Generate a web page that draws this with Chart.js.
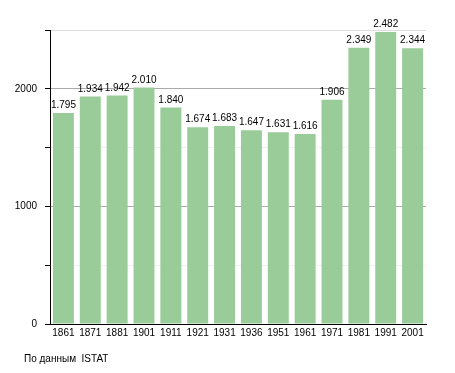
<!DOCTYPE html>
<html>
<head>
<meta charset="utf-8">
<script src="https://cdn.jsdelivr.net/npm/chart.js@4/dist/chart.umd.min.js"></script>
<style>
  html, body { margin: 0; padding: 0; background: #fff; }
  #wrap { position: relative; width: 455px; height: 373px; }
  #source { position: absolute; left: 24px; top: 353px; font: 10px "Liberation Sans", Arial, sans-serif; color: #000; white-space: pre; }
</style>
</head>
<body>
<div id="wrap">
  <canvas id="popChart" width="455" height="373"></canvas>
  <div id="source">По данным  ISTAT</div>
</div>
<script>
const years = ['1861', '1871', '1881', '1901', '1911', '1921', '1931', '1936', '1951', '1961', '1971', '1981', '1991', '2001'];
const population = [1795, 1934, 1942, 2010, 1840, 1674, 1683, 1647, 1631, 1616, 1906, 2349, 2482, 2344];
const yLabels = [0, 1000, 2000];

const FONT = '"Liberation Sans", Arial, sans-serif';
const fmt = v => String(v).replace(/\B(?=(\d{3})+(?!\d))/g, '.');

// etichette sopra le barre
const valueLabels = {
    id: 'valueLabels',
    afterDatasetsDraw(chart) {
        const ctx = chart.ctx;
        const meta = chart.getDatasetMeta(0);
        ctx.save();
        ctx.font = '10px ' + FONT;
        ctx.fillStyle = '#000';
        ctx.textAlign = 'center';
        ctx.textBaseline = 'alphabetic';
        meta.data.forEach((bar, i) => {
            ctx.fillText(fmt(population[i]), bar.x, bar.y - 5);
        });
        ctx.restore();
    }
};

const ctx = document.getElementById('popChart').getContext('2d');
new Chart(ctx, {
    type: 'bar',
    data: {
        labels: years,
        datasets: [{
            data: population,
            backgroundColor: '#99cc99',
            borderWidth: 0,
            categoryPercentage: 1,
            barPercentage: 0.78
        }]
    },
    options: {
        responsive: false,
        animation: false,
        layout: { padding: { left: 0, right: 29, top: 30, bottom: 29 } },
        plugins: {
            legend: { display: false },
            tooltip: { enabled: false }
        },
        scales: {
            x: {
                grid: { display: false, drawTicks: false },
                border: { display: true, color: '#000', width: 1 },
                ticks: { color: '#000', font: { family: FONT, size: 10 }, padding: 3, maxRotation: 0, autoSkip: false },
                afterFit(scale) { scale.height = 20; }
            },
            y: {
                min: 0,
                max: 2500,
                border: { display: true, color: '#000', width: 1 },
                grid: {
                    tickLength: 5,
                    tickColor: '#000',
                    color: c => {
                        const v = c.tick.value;
                        if (v === 0) return 'rgba(0,0,0,0)';
                        if (v % 1000 === 0) return '#aaaaaa';
                        if (v === 2500) return '#dddddd';
                        return '#f0f0f0';
                    }
                },
                ticks: {
                    stepSize: 500,
                    color: '#000',
                    padding: 8,
                    font: { family: FONT, size: 10 },
                    callback: v => yLabels.includes(v) ? String(v) : ''
                },
                afterFit(scale) { scale.width = 50; }
            }
        }
    },
    plugins: [valueLabels]
});
</script>
</body>
</html>
